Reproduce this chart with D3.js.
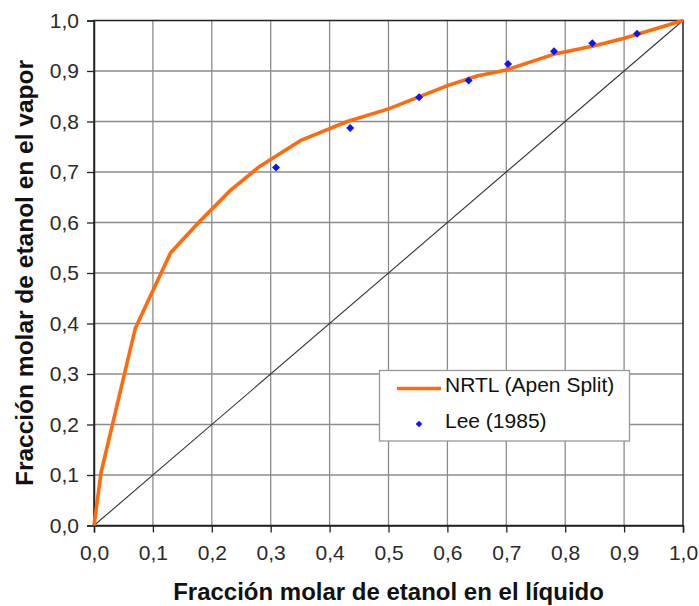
<!DOCTYPE html>
<html><head><meta charset="utf-8">
<script src="https://cdn.jsdelivr.net/npm/d3@7"></script>
<style>body{margin:0;background:#fff}svg{display:block}</style>
</head><body>
<script>
const nrtlX = [0, 0.012, 0.07, 0.13, 0.18, 0.23, 0.28, 0.35, 0.43, 0.50, 0.60, 0.65, 0.70, 0.78, 0.85, 0.90, 1.0];
const nrtlY = [0, 0.105, 0.39, 0.54, 0.603, 0.662, 0.71, 0.762, 0.80, 0.825, 0.871, 0.89, 0.902, 0.933, 0.95, 0.965, 1.0];
const leeX = [0.309, 0.435, 0.552, 0.636, 0.703, 0.781, 0.846, 0.922];
const leeY = [0.709, 0.787, 0.848, 0.881, 0.914, 0.939, 0.955, 0.974];
const ticks = [0, 0.1, 0.2, 0.3, 0.4, 0.5, 0.6, 0.7, 0.8, 0.9, 1.0];
const legendLabels = ["NRTL (Apen Split)", "Lee (1985)"];
const xTitle = "Fracción molar de etanol en el líquido";
const yTitle = "Fracción molar de etanol en el vapor";

const W = 699, H = 606;
const m = {l: 94, r: 683, t: 20.5, b: 525.5};
const svg = d3.select("body").append("svg").attr("width", W).attr("height", H);
const x = d3.scaleLinear().domain([0, 1]).range([m.l, m.r]);
const y = d3.scaleLinear().domain([0, 1]).range([m.b, m.t]);
const fmt = d => d3.format(".1f")(d).replace(".", ",");
const font = "'Liberation Sans', Arial, sans-serif";

// grid
const g = svg.append("g");
g.selectAll(".gx").data(ticks.slice(1, -1)).join("line")
  .attr("x1", d => x(d)).attr("x2", d => x(d)).attr("y1", m.t).attr("y2", m.b)
  .attr("stroke", "#8c8c8c").attr("stroke-width", 1.3);
g.selectAll(".gy").data(ticks.slice(1, -1)).join("line")
  .attr("y1", d => y(d)).attr("y2", d => y(d)).attr("x1", m.l).attr("x2", m.r)
  .attr("stroke", "#8c8c8c").attr("stroke-width", 1.3);

// frame
svg.append("rect").attr("x", m.l).attr("y", m.t).attr("width", m.r - m.l).attr("height", m.b - m.t)
  .attr("fill", "none").attr("stroke", "#222").attr("stroke-width", 1.5);

// axes
const xAxis = d3.axisBottom(x).tickValues(ticks).tickFormat(fmt).tickSize(7).tickPadding(13);
const yAxis = d3.axisLeft(y).tickValues(ticks).tickFormat(fmt).tickSize(7).tickPadding(8);
const ax = svg.append("g").attr("transform", `translate(0,${m.b})`).call(xAxis);
const ay = svg.append("g").attr("transform", `translate(${m.l},0)`).call(yAxis);
[ax, ay].forEach(a => {
  a.select(".domain").attr("stroke", "#222").attr("stroke-width", 1.5);
  a.selectAll(".tick line").attr("stroke", "#222").attr("stroke-width", 1.3);
  a.selectAll("text").attr("font-family", font).attr("font-size", 21).attr("fill", "#2a2a2a");
});

// diagonal
svg.append("line").attr("x1", x(0)).attr("y1", y(0)).attr("x2", x(1)).attr("y2", y(1))
  .attr("stroke", "#333").attr("stroke-width", 1.1);

// NRTL curve
const line = d3.line().x(d => x(d[0])).y(d => y(d[1]));
svg.append("path").datum(nrtlX.map((v, i) => [v, nrtlY[i]]))
  .attr("d", line).attr("fill", "none").attr("stroke", "#ff6a0d").attr("stroke-width", 3.6)
  .attr("stroke-linejoin", "round");

// Lee points (diamonds)
const diamond = d3.symbol().type(d3.symbolSquare).size(32);
svg.selectAll(".lee").data(leeX.map((v, i) => [v, leeY[i]])).join("path")
  .attr("d", diamond).attr("transform", d => `translate(${x(d[0])},${y(d[1])}) rotate(45)`)
  .attr("fill", "#0a14ff");

// legend
const lg = svg.append("g");
lg.append("rect").attr("x", 379.5).attr("y", 370.5).attr("width", 250).attr("height", 70.5)
  .attr("fill", "#fff").attr("stroke", "#999").attr("stroke-width", 1.3);
lg.append("line").attr("x1", 397).attr("x2", 441).attr("y1", 388.5).attr("y2", 388.5)
  .attr("stroke", "#ff6a0d").attr("stroke-width", 3.6);
lg.append("path").attr("d", d3.symbol().type(d3.symbolSquare).size(22))
  .attr("transform", "translate(419,424) rotate(45)").attr("fill", "#0a14ff");
lg.selectAll("text").data(legendLabels).join("text")
  .attr("x", 445).attr("y", (d, i) => 392 + i * 36)
  .attr("font-family", font).attr("font-size", 21).attr("fill", "#111").text(d => d);

// titles
svg.append("text").attr("x", (m.l + m.r) / 2).attr("y", 600).attr("text-anchor", "middle")
  .attr("font-family", font).attr("font-weight", "bold").attr("font-size", 24).attr("fill", "#111")
  .text(xTitle);
svg.append("text").attr("transform", `translate(33,${(m.t + m.b) / 2}) rotate(-90)`)
  .attr("text-anchor", "middle")
  .attr("font-family", font).attr("font-weight", "bold").attr("font-size", 24.5).attr("fill", "#111")
  .text(yTitle);
</script>
</body></html>
